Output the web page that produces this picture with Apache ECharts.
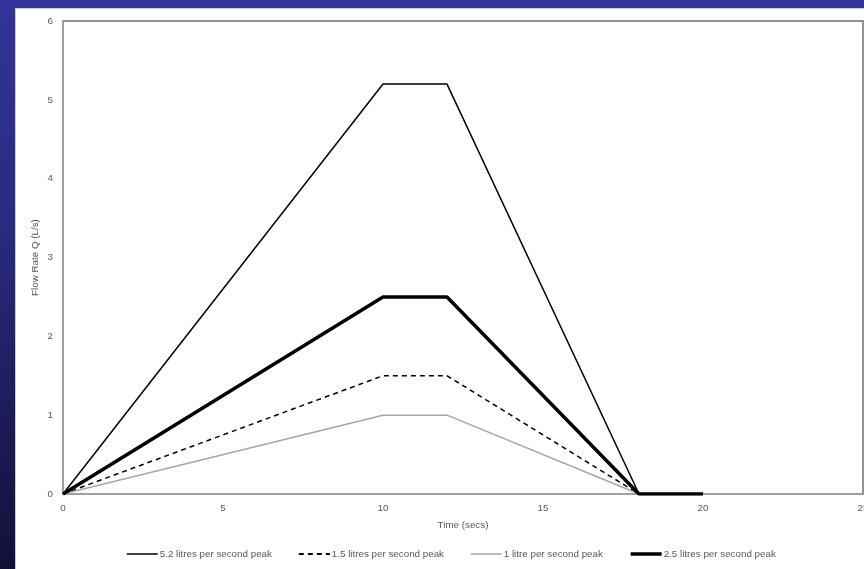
<!DOCTYPE html>
<html><head><meta charset="utf-8">
<script src="https://cdn.jsdelivr.net/npm/echarts@6/dist/echarts.min.js"></script>
<style>
html,body{margin:0;padding:0;width:864px;height:569px;overflow:hidden;
background:linear-gradient(to bottom,#333399 0%,#2a2a80 40%,#121038 100%);}
#panel{position:absolute;left:15px;top:8px;width:849px;height:561px;background:#fff;border-left:1px solid #c8c8d8;border-top:1px solid #c8c8d8;box-sizing:border-box;}
#c{position:absolute;left:-1px;top:-1px;width:849px;height:561px;}
</style></head><body>
<div id="panel"><div id="c"></div></div>
<script>
var seriesNames = ['5.2 litres per second peak','1.5 litres per second peak','1 litre per second peak','2.5 litres per second peak'];
var s52 = [[0,0],[10,5.2],[12,5.2],[18,0]];
var s15 = [[0,0],[10,1.5],[12,1.5],[18,0]];
var s10 = [[0,0],[10,1],[12,1],[18,0]];
var s25 = [[0,0],[10,2.5],[12,2.5],[18,0],[20,0]];
var xTicks = [0,5,10,15,20,25];
var yTicks = [0,1,2,3,4,5,6];

var chart = echarts.init(document.getElementById('c'));
var font = 'Liberation Sans, sans-serif';
var fs = 9.8;
chart.setOption({
  animation:false,
  textStyle:{fontFamily:font},
  grid:{left:48,top:13,right:1,bottom:75,show:true,borderColor:'#6e6e6e',borderWidth:1.5,containLabel:false,outerBoundsMode:'none'},
  xAxis:{type:'value',min:0,max:25,interval:5,
    name:'Time (secs)',nameLocation:'middle',nameGap:26,
    nameTextStyle:{color:'#595959',fontSize:fs,fontFamily:font},
    axisLine:{show:true,lineStyle:{color:'#a6a6a6',width:1.5}},
    axisTick:{show:false},splitLine:{show:false},
    axisLabel:{color:'#595959',fontSize:fs,margin:9,fontFamily:font}},
  yAxis:{type:'value',min:0,max:6,interval:1,
    name:'Flow Rate Q (L/s)',nameLocation:'middle',nameGap:23,nameMoveOverlap:false,
    nameTextStyle:{color:'#595959',fontSize:fs,fontFamily:font},
    axisLine:{show:true,lineStyle:{color:'#a6a6a6',width:1.5}},
    axisTick:{show:false},splitLine:{show:false},
    axisLabel:{color:'#595959',fontSize:fs,margin:10,fontFamily:font}},
  legend:{bottom:5,left:106,itemWidth:31,itemHeight:8,itemGap:26,
    itemStyle:{opacity:0},
    textStyle:{color:'#595959',fontSize:fs,fontFamily:font,padding:[0,0,0,-3]},
    data:[
      {name:seriesNames[0],lineStyle:{width:1.5}},
      {name:seriesNames[1],lineStyle:{width:1.8}},
      {name:seriesNames[2],lineStyle:{width:1.5}},
      {name:seriesNames[3],lineStyle:{width:3.5}}
    ]},
  series:[
    {name:seriesNames[0],type:'line',data:s52,showSymbol:false,symbol:'none',lineStyle:{color:'#000',width:1.5},itemStyle:{color:'#000'}},
    {name:seriesNames[1],type:'line',data:s15,showSymbol:false,symbol:'none',lineStyle:{color:'#000',width:1.5,type:[5,4]},itemStyle:{color:'#000'}},
    {name:seriesNames[2],type:'line',data:s10,showSymbol:false,symbol:'none',lineStyle:{color:'#a6a6a6',width:1.5},itemStyle:{color:'#a6a6a6'}},
    {name:seriesNames[3],type:'line',data:s25,showSymbol:false,symbol:'none',lineStyle:{color:'#000',width:3.5},itemStyle:{color:'#000'}}
  ]
});
</script></body></html>
